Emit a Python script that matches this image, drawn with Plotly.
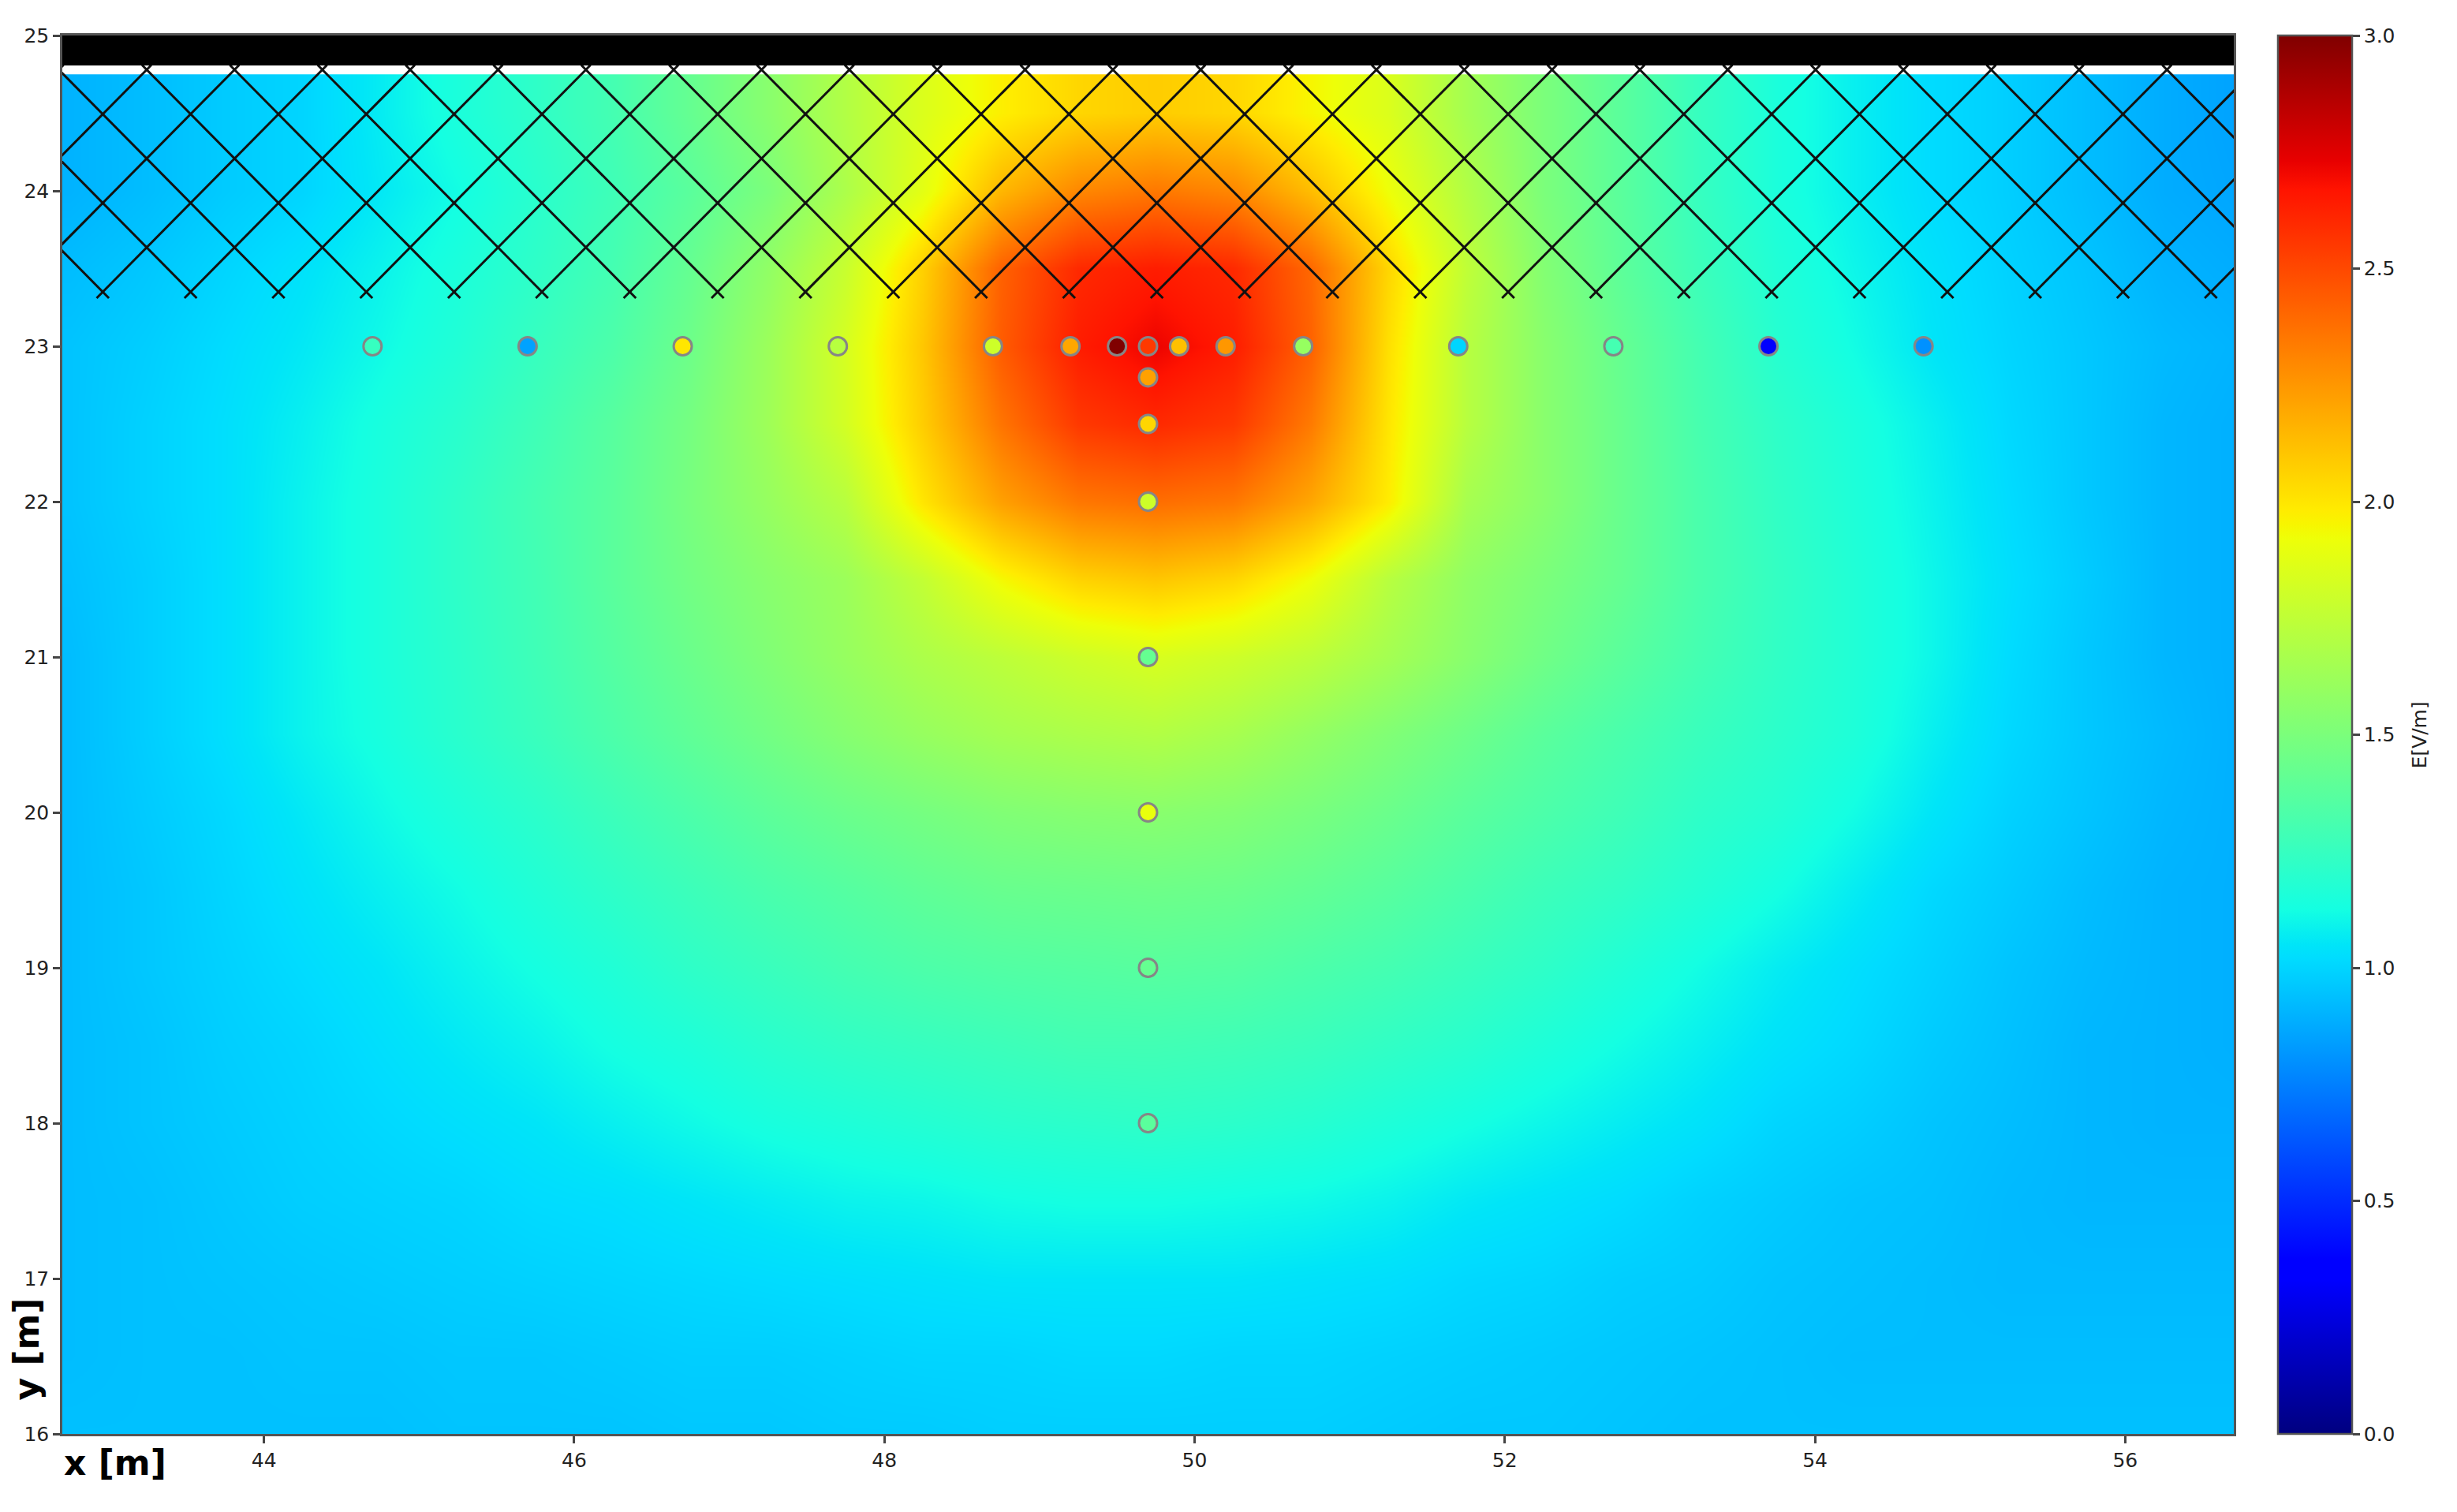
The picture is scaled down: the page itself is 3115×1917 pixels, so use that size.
import numpy as np
import plotly.graph_objects as go

# E-field map (V/m); rows run from top to bottom
grid_x = [42.75,43.25,43.75,44.25,44.75,45.25,45.75,46.25,46.75,47.25,47.75,48.25,48.75,49.25,49.75,
          50.25,50.75,51.25,51.75,52.25,52.75,53.25,53.75,54.25,54.75,55.25,55.75,56.25,56.75]
grid_y = [24.5,24.0,23.5,23.0,22.5,22.0,21.5,21.0,20.5,20.0,19.5,19.0,18.5,18.0,17.5,17.0,16.5,16.0]
grid_e = [
 [.90,.93,.97,1.00,1.07,1.15,1.22,1.30,1.42,1.55,1.70,1.85,1.97,2.05,2.08,2.05,1.95,1.85,1.65,1.50,1.38,1.25,1.15,1.08,1.02,.98,.93,.88,.85],
 [.90,.93,.97,1.00,1.06,1.12,1.20,1.28,1.38,1.50,1.68,1.88,2.15,2.30,2.35,2.30,2.13,1.92,1.70,1.50,1.38,1.25,1.15,1.08,1.02,.98,.93,.88,.86],
 [.93,.96,1.00,1.04,1.09,1.15,1.22,1.30,1.42,1.58,1.78,2.07,2.42,2.60,2.64,2.60,2.40,2.05,1.75,1.53,1.39,1.27,1.17,1.10,1.04,.99,.95,.90,.88],
 [.95,.98,1.02,1.06,1.11,1.17,1.25,1.33,1.45,1.62,1.83,2.10,2.44,2.64,2.72,2.64,2.42,2.02,1.72,1.55,1.42,1.30,1.19,1.12,1.05,1.00,.96,.92,.90],
 [.95,.99,1.03,1.08,1.14,1.20,1.28,1.37,1.48,1.63,1.82,2.08,2.36,2.55,2.60,2.55,2.34,2.00,1.72,1.55,1.43,1.31,1.22,1.15,1.08,1.01,.96,.91,.89],
 [.95,.99,1.03,1.09,1.15,1.22,1.30,1.38,1.49,1.60,1.72,2.00,2.22,2.35,2.38,2.35,2.20,1.98,1.66,1.55,1.43,1.32,1.23,1.16,1.09,1.02,.96,.91,.89],
 [.94,.98,1.03,1.09,1.15,1.22,1.29,1.38,1.47,1.55,1.62,1.76,1.94,2.06,2.10,2.05,1.92,1.72,1.58,1.50,1.42,1.32,1.24,1.17,1.10,1.03,.97,.91,.89],
 [.93,.98,1.03,1.09,1.15,1.21,1.28,1.36,1.44,1.52,1.60,1.68,1.74,1.80,1.84,1.80,1.74,1.65,1.55,1.46,1.38,1.30,1.23,1.17,1.10,1.02,.96,.91,.89],
 [.93,.98,1.03,1.09,1.14,1.20,1.26,1.33,1.40,1.47,1.54,1.60,1.65,1.68,1.70,1.66,1.59,1.52,1.45,1.38,1.32,1.26,1.21,1.16,1.08,1.01,.96,.92,.89],
 [.93,.97,1.01,1.06,1.11,1.16,1.21,1.27,1.33,1.39,1.44,1.48,1.52,1.54,1.55,1.53,1.49,1.44,1.38,1.33,1.28,1.22,1.18,1.12,1.05,.99,.95,.91,.89],
 [.93,.96,1.00,1.04,1.08,1.12,1.17,1.22,1.27,1.32,1.36,1.40,1.43,1.44,1.45,1.44,1.41,1.37,1.32,1.27,1.23,1.18,1.13,1.07,1.01,.97,.93,.90,.89],
 [.93,.96,.99,1.02,1.05,1.09,1.13,1.17,1.22,1.26,1.30,1.33,1.35,1.36,1.37,1.36,1.33,1.30,1.26,1.22,1.17,1.12,1.07,1.03,.99,.95,.92,.90,.89],
 [.93,.95,.98,1.00,1.03,1.06,1.09,1.13,1.16,1.20,1.23,1.25,1.27,1.29,1.29,1.28,1.26,1.23,1.20,1.16,1.12,1.08,1.04,1.01,.97,.94,.91,.90,.89],
 [.93,.95,.97,.99,1.01,1.03,1.05,1.08,1.11,1.14,1.16,1.18,1.20,1.21,1.22,1.21,1.19,1.16,1.13,1.10,1.07,1.04,1.00,.98,.95,.93,.91,.90,.90],
 [.93,.94,.96,.98,.99,1.00,1.02,1.03,1.05,1.07,1.09,1.10,1.12,1.13,1.13,1.12,1.11,1.09,1.06,1.04,1.02,.99,.97,.95,.94,.92,.91,.91,.91],
 [.93,.94,.95,.96,.97,.98,.99,1.00,1.01,1.02,1.03,1.04,1.05,1.05,1.05,1.05,1.04,1.03,1.01,1.00,.98,.97,.95,.94,.93,.92,.92,.92,.92],
 [.93,.94,.94,.95,.95,.96,.96,.97,.98,.98,.99,1.00,1.00,1.01,1.01,1.00,1.00,.99,.98,.97,.96,.95,.94,.93,.93,.93,.93,.93,.93],
 [.94,.94,.94,.94,.94,.95,.95,.95,.96,.96,.97,.97,.98,.98,.98,.98,.98,.97,.96,.96,.95,.94,.94,.94,.94,.94,.94,.94,.94],
]

# Measurement points
point_x = [44.7,45.7,46.7,47.7,48.7,49.2,49.5,49.7,49.9,50.2,50.7,51.7,52.7,53.7,54.7,49.7,49.7,49.7,49.7,49.7,49.7,49.7]
point_y = [23,23,23,23,23,23,23,23,23,23,23,23,23,23,23,22.8,22.5,22,21,20,19,18]
point_e = [1.25,.85,2.0,1.72,1.8,2.2,3.0,2.55,2.12,2.25,1.6,1.0,1.3,.33,.8,2.22,2.05,1.8,1.42,1.9,1.42,1.38]

jet = [[0,"#000080"],[.11,"#0000ff"],[.125,"#0000ff"],[.34,"#00dcff"],[.35,"#00e5f8"],[.375,"#14ffe2"],[.5,"#7bff7b"],
       [.64,"#eeff08"],[.65,"#f7f600"],[.66,"#ffec00"],[.89,"#ff1300"],[.91,"#e80000"],[1,"#800000"]]

x_range = [42.7, 56.7]
y_range = [16, 25]
x_ticks = [44,46,48,50,52,54,56]
y_ticks = [16,17,18,19,20,21,22,23,24,25]
bar_ticks = [0,.5,1,1.5,2,2.5,3]

# Structure: solid strip along the top and its cross-hatched zone below
strip_bottom = 24.807
hatch_top, hatch_bottom = 24.81, 23.31
hatch_dx = 0.5663
hatch_anchor_x, hatch_anchor_y = 43.244, 24.78
hatch_slope = 1.01

fig = go.Figure()
fig.add_trace(go.Heatmap(x=grid_x, y=grid_y, z=grid_e, colorscale=jet, zmin=0, zmax=3, zsmooth="best",
    colorbar=dict(x=(2888-79)/2753, xanchor="left", xref="paper", y=0, yanchor="bottom", yref="paper", len=1, lenmode="fraction",
                  thickness=94, thicknessmode="pixels", outlinecolor="#555", outlinewidth=2.5,
                  tickvals=bar_ticks, ticktext=[f"{v:.1f}" for v in bar_ticks], ticks="outside", ticklen=9, tickwidth=2.5, tickcolor="#444",
                  tickfont=dict(size=25, color="#222", family="DejaVu Sans"),
                  xpad=0, ypad=0)))

# hatch lines in both directions
offsets = np.arange(-8, 35) * hatch_dx
hx, hy = [], []
for sign in (1, -1):
    for o in offsets:
        base = hatch_anchor_x + o
        for yy in (hatch_top, hatch_bottom):
            hx.append(base + sign * (yy - hatch_anchor_y) / hatch_slope)
            hy.append(yy)
        hx.append(None); hy.append(None)
fig.add_trace(go.Scatter(x=hx, y=hy, mode="lines", line=dict(color="#111", width=3), hoverinfo="skip", showlegend=False))

fig.add_trace(go.Scatter(x=[x_range[0], x_range[1], x_range[1], x_range[0], x_range[0]],
                         y=[strip_bottom, strip_bottom, y_range[1], y_range[1], strip_bottom],
                         mode="lines", fill="toself", fillcolor="#000", line=dict(width=0), hoverinfo="skip", showlegend=False))

fig.add_trace(go.Scatter(x=point_x, y=point_y, mode="markers", showlegend=False,
    marker=dict(size=23, color=point_e, colorscale=jet, cmin=0, cmax=3, showscale=False, line=dict(color="#868686", width=3))))

axis = dict(showgrid=False, zeroline=False, showline=True, mirror=True, linecolor="#555", linewidth=2.5,
            ticks="outside", ticklen=9, tickwidth=2.5, tickcolor="#444",
            tickfont=dict(size=25, color="#222", family="DejaVu Sans"))
fig.update_layout(width=3115, height=1917, margin=dict(l=79, r=283, t=45, b=99),
                  paper_bgcolor="white", plot_bgcolor="white", showlegend=False,
                  xaxis=dict(axis, range=x_range, tickvals=x_ticks),
                  yaxis=dict(axis, range=y_range, tickvals=y_ticks),
                  annotations=[
                      dict(text="<b>x [m]</b>", xref="paper", yref="paper", x=0, y=0, xanchor="left", yanchor="top", yshift=-9,
                           showarrow=False, font=dict(size=44, color="#000", family="DejaVu Sans")),
                      dict(text="<b>y [m]</b>", xref="paper", yref="paper", x=0, y=0.0225, xanchor="right", yanchor="bottom", xshift=-18,
                           textangle=-90, showarrow=False, font=dict(size=44, color="#000", family="DejaVu Sans")),
                      dict(text="E[V/m]", xref="paper", yref="paper", x=(3067-79)/2753, y=0.5, xanchor="center", yanchor="middle",
                           textangle=-90, showarrow=False, font=dict(size=25, color="#222", family="DejaVu Sans")),
                  ])
fig.write_html("out.html", post_script="document.body.style.margin='0';", config={"displayModeBar": False})
